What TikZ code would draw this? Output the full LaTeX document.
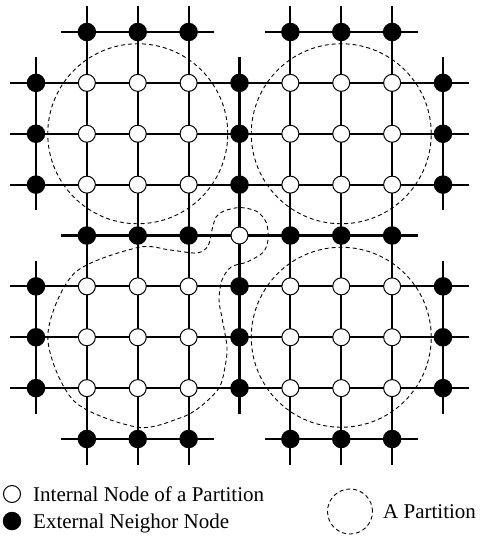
\documentclass[tikz,border=0pt]{standalone}
\usepackage{fontspec}
\setmainfont{Liberation Serif}
\usetikzlibrary{backgrounds}
\begin{document}
\begin{tikzpicture}[x=1pt,y=-1pt,
  innernode/.style={circle,draw=black,fill=white,line width=1pt,minimum size=17pt,inner sep=0pt,outer sep=0pt},
  outernode/.style={circle,fill=black,minimum size=18.5pt,inner sep=0pt,outer sep=0pt},
  edge/.style={line width=2.2pt},
  part/.style={line width=0.9pt,dash pattern=on 4pt off 3pt},
  lbl/.style={anchor=base west,inner sep=0pt,font=\fontsize{21}{25}\selectfont}]
\useasboundingbox (0,0) rectangle (480,536);
\def\sp{50.875}
% internal nodes
\foreach \c in {1,2,3,5,6,7}
  \foreach \r in {1,2,3,5,6,7}
    \node[innernode] (n-\c-\r) at ({36+\sp*\c},{32+\sp*\r}) {};
\node[innernode] (n-4-4) at ({36+\sp*4},{32+\sp*4}) {};
% external neighbour nodes
\foreach \c in {1,2,3,5,6,7}
  \foreach \r in {0,4,8}
    \node[outernode] (n-\c-\r) at ({36+\sp*\c},{32+\sp*\r}) {};
\foreach \c in {0,4,8}
  \foreach \r in {1,2,3,5,6,7}
    \node[outernode] (n-\c-\r) at ({36+\sp*\c},{32+\sp*\r}) {};
% free ends
\foreach \r in {1,2,3,5,6,7}{
  \coordinate (hl-\r) at (10,{32+\sp*\r});
  \coordinate (hr-\r) at (469,{32+\sp*\r});
}
\foreach \c in {1,2,3,5,6,7}{
  \coordinate (vt-\c) at ({36+\sp*\c},6);
  \coordinate (vb-\c) at ({36+\sp*\c},465);
}
\foreach \r in {0,8}{
  \coordinate (a-\r) at ({36+\sp*1-25.4},{32+\sp*\r});
  \coordinate (b-\r) at ({36+\sp*3+25.4},{32+\sp*\r});
  \coordinate (c-\r) at ({36+\sp*5-25.4},{32+\sp*\r});
  \coordinate (d-\r) at ({36+\sp*7+25.4},{32+\sp*\r});
}
\coordinate (a-4) at ({36+\sp*1-25.4},{32+\sp*4});
\coordinate (d-4) at ({36+\sp*7+25.4},{32+\sp*4});
\foreach \c in {0,8}{
  \coordinate (e-\c) at ({36+\sp*\c},{32+\sp*1-25.4});
  \coordinate (f-\c) at ({36+\sp*\c},{32+\sp*3+25.4});
  \coordinate (g-\c) at ({36+\sp*\c},{32+\sp*5-25.4});
  \coordinate (h-\c) at ({36+\sp*\c},{32+\sp*7+25.4});
}
\coordinate (e-4) at ({36+\sp*4},{32+\sp*1-25.4});
\coordinate (h-4) at ({36+\sp*4},{32+\sp*7+25.4});
% connectors
\begin{scope}[on background layer]
\foreach \r in {1,2,3,5,6,7}
  \draw[edge] (hl-\r) \foreach \c in {0,...,8}{ -- (n-\c-\r.center)} -- (hr-\r);
\foreach \r in {0,8}{
  \draw[edge] (a-\r) -- (n-1-\r.center) -- (n-2-\r.center) -- (n-3-\r.center) -- (b-\r);
  \draw[edge] (c-\r) -- (n-5-\r.center) -- (n-6-\r.center) -- (n-7-\r.center) -- (d-\r);
}
\draw[edge] (a-4) \foreach \c in {1,...,7}{ -- (n-\c-4.center)} -- (d-4);
\foreach \c in {1,2,3,5,6,7}
  \draw[edge] (vt-\c) \foreach \r in {0,...,8}{ -- (n-\c-\r.center)} -- (vb-\c);
\foreach \c in {0,8}{
  \draw[edge] (e-\c) -- (n-\c-1.center) -- (n-\c-2.center) -- (n-\c-3.center) -- (f-\c);
  \draw[edge] (g-\c) -- (n-\c-5.center) -- (n-\c-6.center) -- (n-\c-7.center) -- (h-\c);
}
\draw[edge] (e-4) \foreach \r in {1,...,7}{ -- (n-4-\r.center)} -- (h-4);
\end{scope}
% partitions
\draw[part] (n-2-2.center) circle[radius=90pt];
\draw[part] (n-6-2.center) circle[radius=90pt];
\draw[part] (n-6-6.center) circle[radius=90pt];
\draw[part] plot[smooth cycle] coordinates {
  (137.75,247.5) (170,250) (197,253) (208,246) (212,230) (216,217) (224,211)
  (240,207.5) (257,211.5) (266.5,223) (268,240) (263,252.5) (247,262) (231,267)
  (222,280) (219,300) (222,318) (227,347) (225,367) (219,388) (200,407)
  (180,418) (137.75,427.25) (74,401) (47.75,337) (74,273.5)};
% legend
\node[innernode] (lw) at (12,494) {};
\node[outernode] (lb) at (12,521) {};
\node[lbl] (lt1) at (33,501) {Internal Node of a Partition};
\node[lbl] (lt2) at (33,528) {External Neighor Node};
\node[circle,draw,part,minimum size=45pt,inner sep=0pt] (lp) at (350,511.5) {};
\node[lbl] (lt3) at (383,518) {A Partition};
\end{tikzpicture}
\end{document}
